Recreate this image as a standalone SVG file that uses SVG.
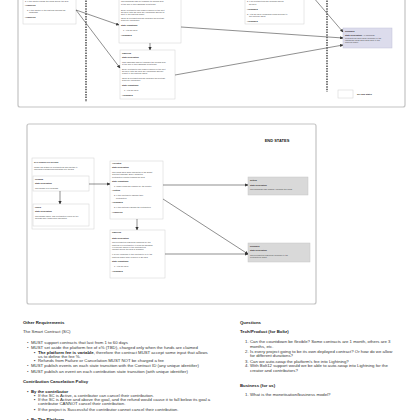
<svg xmlns="http://www.w3.org/2000/svg" width="420" height="420" viewBox="0 0 420 420">
<defs>
<marker id="ah" viewBox="0 0 6 6" refX="5.5" refY="3" markerWidth="3.2" markerHeight="3.2" markerUnits="userSpaceOnUse" orient="auto">
<path d="M0,0 L6,3 L0,6 z" fill="#333"/>
</marker>
</defs>
<style>
.frame{fill:#fff;stroke:#c4c4c4;stroke-width:1.2}
.node{fill:#fff;stroke:#d0d0d0;stroke-width:0.5}
.gnode{fill:#d9d9d9;stroke:#c6c6c6;stroke-width:0.5}
.pnode{fill:#dcdcec;stroke:#c2c2da;stroke-width:0.5}
.t{font-family:"Liberation Sans",Arial,sans-serif;font-size:2.05px;fill:#444}
.b{font-weight:bold;fill:#222}
.edge{stroke:#444;stroke-width:0.6;fill:none;marker-end:url(#ah)}
.dash{stroke:#333;stroke-width:1.3;stroke-dasharray:1.5 1.1;fill:none}
.doc{font-family:"Liberation Sans",Arial,sans-serif;font-size:4.3px;fill:#333}
.h{font-weight:bold;fill:#222}
</style>
<rect width="420" height="420" fill="#fff"/>

<!-- Frame 1 -->
<rect class="frame" x="18" y="-10" width="387" height="117" rx="2"/>
<line class="dash" x1="86" y1="-10" x2="86" y2="102"/>
<line class="dash" x1="327" y1="-10" x2="327" y2="92"/>

<g id="n-top-left">
<rect class="node" x="23" y="-5" width="53" height="29"/>
<text class="t" x="25" y="1.8">2. If the creator claims the funds before the goal</text>
<text class="t b" x="25" y="6">• Canceled</text>
<text class="t" x="27" y="10.8">3. If the creator or the platform cancels the</text>
<text class="t" x="29" y="13">campaign</text>
<text class="t b" x="25" y="17.8">• Canceled</text>
</g>

<g id="n-top-failed">
<rect class="node" x="119" y="-5" width="62" height="48"/>
<text class="t" x="121" y="2.4">The campaign has not reached its funding goal</text>
<text class="t" x="121" y="5.4">at the end of the campaign countdown</text>
<text class="t" x="121" y="10.8">Every contributor can claim a refund for the next</text>
<text class="t" x="121" y="12.8">30 days, after 30 days any unclaimed amount is</text>
<text class="t" x="121" y="14.8">sent to the platform wallet</text>
<text class="t" x="121" y="18.8">Once all contributions are refunded the contract</text>
<text class="t" x="121" y="20.8">goes into 'Refunded'</text>
<text class="t b" x="121" y="25.8">State Transitions</text>
<text class="t" x="123" y="30.8">1. After 30 days</text>
<text class="t b" x="121" y="35.8">• Refunded</text>
</g>

<g id="n-top-canceled">
<rect class="node" x="120" y="50" width="55" height="49"/>
<text class="t b" x="122" y="53.8">Canceled</text>
<text class="t b" x="122" y="57.8">State Description</text>
<text class="t" x="122" y="62.7">This campaign has not reached the funding goal</text>
<text class="t" x="122" y="64.9">at the end of the campaign countdown</text>
<text class="t" x="122" y="69.7">Every contributor can claim a refund for the next</text>
<text class="t" x="122" y="71.9">30 days, after 30 days any unclaimed amount</text>
<text class="t" x="122" y="74.1">is sent to the platform wallet</text>
<text class="t" x="122" y="78.8">Once all contributions are refunded the contract</text>
<text class="t" x="122" y="81">goes into 'Refunded'</text>
<text class="t b" x="122" y="86">State Transitions</text>
<text class="t" x="124" y="91">1. After 30 days</text>
<text class="t b" x="122" y="96">• Refunded</text>
</g>

<g id="n-top-right">
<rect class="node" x="245" y="-5" width="59" height="29"/>
<text class="t" x="247" y="2.4">2. If all contributions are refunded before</text>
<text class="t" x="249" y="4.6">30 days</text>
<text class="t b" x="247" y="9.8">• Refunded</text>
<text class="t" x="247" y="14.8">3. After 30 days, unclaimed funds are sent to</text>
<text class="t" x="249" y="17">the platform wallet</text>
<text class="t b" x="247" y="21.8">• Refunded</text>
</g>

<g id="n-refunded">
<rect class="pnode" x="343" y="28" width="49" height="20"/>
<text class="t b" x="345" y="31.8">Refunded</text>
<text class="t" x="345" y="36.2"><tspan class="b">State Description:</tspan> All campaign</text>
<text class="t" x="345" y="38.6">contributions have been refunded or the</text>
<text class="t" x="345" y="41">remaining funds have been sent to the</text>
<text class="t" x="345" y="43.4">platform wallet</text>
</g>

<g id="n-legend">
<rect class="node" x="338" y="90" width="15" height="8"/>
<text class="t b" x="357" y="94.8">See End States</text>
</g>

<g id="edges-top">
<line class="edge" x1="76" y1="10" x2="119" y2="25"/>
<line class="edge" x1="76" y1="10" x2="120" y2="68"/>
<line class="edge" x1="150" y1="43" x2="150" y2="50"/>
<line class="edge" x1="181" y1="27" x2="343" y2="38"/>
<line class="edge" x1="175" y1="75" x2="343" y2="45"/>
<line class="edge" x1="307" y1="-10" x2="343" y2="32"/>
</g>

<!-- Frame 2 -->
<rect class="frame" x="27" y="124" width="289" height="180" rx="2"/>
<text x="277" y="141.5" text-anchor="middle" font-family="Liberation Sans, Arial, sans-serif" font-size="4px" font-weight="bold" fill="#222">END STATES</text>

<g id="n-container">
<rect class="node" x="32" y="158" width="62" height="71" stroke="#c8c8c8"/>
<text class="t b" x="34" y="163">SAT CONTRACT STATES</text>
<text class="t" x="34" y="168">These are states for contributions and pertain to</text>
<text class="t" x="34" y="170.4">individual contributors deposited into the SC</text>
</g>

<g id="n-pending">
<rect class="node" x="33" y="176" width="56" height="15"/>
<text class="t b" x="35" y="179.8">Pending</text>
<text class="t b" x="35" y="183.8">State Description</text>
<text class="t" x="35" y="188.8">The charge is in progress</text>
</g>

<g id="n-failed">
<rect class="node" x="33" y="204" width="56" height="22"/>
<text class="t b" x="35" y="207.8">Failed</text>
<text class="t b" x="35" y="211.8">State Description</text>
<text class="t" x="35" y="216.6">The charge failed. The contribution could not go</text>
<text class="t" x="35" y="219">through and it was never deposited</text>
</g>

<g id="n-accepted">
<rect class="node" x="110" y="161" width="53" height="58"/>
<text class="t b" x="112" y="164.3">Accepted</text>
<text class="t b" x="112" y="168.1">State Description</text>
<text class="t" x="112" y="173.1">The funds have been deposited in the Smart</text>
<text class="t" x="112" y="175.3">Contract address. Every accepted</text>
<text class="t" x="112" y="177.5">contribution counts towards the goal</text>
<text class="t b" x="112" y="181.8">State Transitions</text>
<text class="t" x="114" y="186.8">1. When funds are claimed by the creator</text>
<text class="t b" x="112" y="190.8">• Settled</text>
<text class="t" x="114" y="196.3">2. If the contributor cancels their</text>
<text class="t" x="116" y="198.5">contribution</text>
<text class="t b" x="112" y="202.8">• Refunded</text>
<text class="t" x="114" y="207.6">3. If the platform cancels the contribution</text>
<text class="t b" x="112" y="212.6">• Canceled</text>
</g>

<g id="n-canceled">
<rect class="node" x="110" y="230" width="55" height="48"/>
<text class="t b" x="112" y="233.2">Canceled</text>
<text class="t b" x="112" y="238.5">State Description</text>
<text class="t" x="112" y="243.1">The contribution has been canceled by the</text>
<text class="t" x="112" y="245.5">platform or a contributor (it could be because</text>
<text class="t" x="112" y="247.9">of a project failure or the contributor's</text>
<text class="t" x="112" y="250.3">request before the goal is reached)</text>
<text class="t" x="112" y="255.1">It is only refunded to the contributor or to the</text>
<text class="t" x="112" y="257.5">platform wallet after a period of 30 days</text>
<text class="t b" x="112" y="261.5">State Transitions</text>
<text class="t" x="114" y="266.5">1. After 30 days</text>
<text class="t b" x="112" y="271.5">• Refunded</text>
</g>

<g id="n-settled">
<rect class="gnode" x="248" y="177" width="60" height="18"/>
<text class="t b" x="250" y="180.8">Settled</text>
<text class="t b" x="250" y="185.5">State Description</text>
<text class="t" x="250" y="190.1">The campaign has finished, claiming the funds</text>
</g>

<g id="n-end-refunded">
<rect class="gnode" x="248" y="243" width="62" height="19" fill="#e0e0e0"/>
<text class="t b" x="250" y="246.8">Refunded</text>
<text class="t b" x="250" y="251.3">State Description</text>
<text class="t" x="250" y="255.8">The contribution has been refunded to the</text>
<text class="t" x="250" y="258.2">contributor's wallet</text>
</g>

<g id="edges-end">
<line class="edge" x1="60" y1="191" x2="60" y2="204"/>
<line class="edge" x1="89" y1="184" x2="110" y2="184"/>
<line class="edge" x1="163" y1="185" x2="248" y2="185"/>
<line class="edge" x1="163" y1="199" x2="248" y2="254"/>
<line class="edge" x1="137" y1="219" x2="137" y2="230"/>
<line class="edge" x1="165" y1="254" x2="248" y2="254"/>
</g>

<!-- Document section -->
<g id="doc-left" class="doc">
<text class="doc h" x="23" y="323.8">Other Requirements</text>
<text class="doc" x="23" y="333.2">The Smart Contract (SC)</text>
<text class="doc" x="27" y="343.8">•</text><text class="doc" x="31" y="343.8">MUST support contracts that last from 1 to 60 days</text>
<text class="doc" x="27" y="348.8">•</text><text class="doc" x="31" y="348.8">MUST set aside the platform fee of x% (TBD), charged only when the funds are claimed</text>
<text class="doc" x="34" y="353.5">▪</text><text class="doc" x="38" y="353.5"><tspan class="h">The platform fee is variable</tspan>, therefore the contract MUST accept some input that allows</text>
<text class="doc" x="38" y="357.5">us to define the fee %.</text>
<text class="doc" x="34" y="362.2">▪</text><text class="doc" x="38" y="362.2">Refunds from Failure or Cancelation MUST NOT be charged a fee</text>
<text class="doc" x="27" y="367.2">•</text><text class="doc" x="31" y="367.2">MUST publish events on each state transition with the Contract ID (any unique identifier)</text>
<text class="doc" x="27" y="372.5">•</text><text class="doc" x="31" y="372.5">MUST publish an event on each contribution state transition (with unique identifier)</text>
<text class="doc h" x="23" y="382.5">Contribution Cancelation Policy</text>
<text class="doc h" x="27" y="392.5">•</text><text class="doc h" x="31" y="392.5">By the contributor</text>
<text class="doc" x="34" y="396.8">▪</text><text class="doc" x="38" y="396.8">If the SC is Active, a contributor can cancel their contribution.</text>
<text class="doc" x="34" y="401.2">▪</text><text class="doc" x="38" y="401.2">If the SC is Active and above the goal, and the refund would cause it to fall below its goal a</text>
<text class="doc" x="38" y="405.2">contributor CANNOT cancel their contribution.</text>
<text class="doc" x="34" y="410.5">▪</text><text class="doc" x="38" y="410.5">If the project is Successful the contributor cannot cancel their contribution.</text>
<text class="doc h" x="27" y="420.5">•</text><text class="doc h" x="31" y="420.5">By The Platform</text>
</g>

<g id="doc-right" class="doc">
<text class="doc h" x="240" y="323.8">Questions</text>
<text class="doc h" x="240" y="333.2">Tech/Product (for Boltz)</text>
<text class="doc" x="245" y="343.2">1.</text><text class="doc" x="250" y="343.2">Can the countdown be flexible? Some contracts are 1 month, others are 3</text>
<text class="doc" x="250" y="347.5">months, etc.</text>
<text class="doc" x="245" y="353.2">2.</text><text class="doc" x="250" y="353.2">Is every project going to be its own deployed contract? Or how do we allow</text>
<text class="doc" x="250" y="357.2">for different durations?</text>
<text class="doc" x="245" y="362.5">3.</text><text class="doc" x="250" y="362.5">Can we auto-swap the platform's fee into Lightning?</text>
<text class="doc" x="245" y="367.2">4.</text><text class="doc" x="250" y="367.2">With Bolt12 support would we be able to auto-swap into Lightning for the</text>
<text class="doc" x="250" y="371.5">creator and contributors?</text>
<text class="doc h" x="240" y="386.5">Business (for us)</text>
<text class="doc" x="245" y="395.5">1.</text><text class="doc" x="250" y="395.5">What is the monetisation/business model?</text>
</g>
</svg>
